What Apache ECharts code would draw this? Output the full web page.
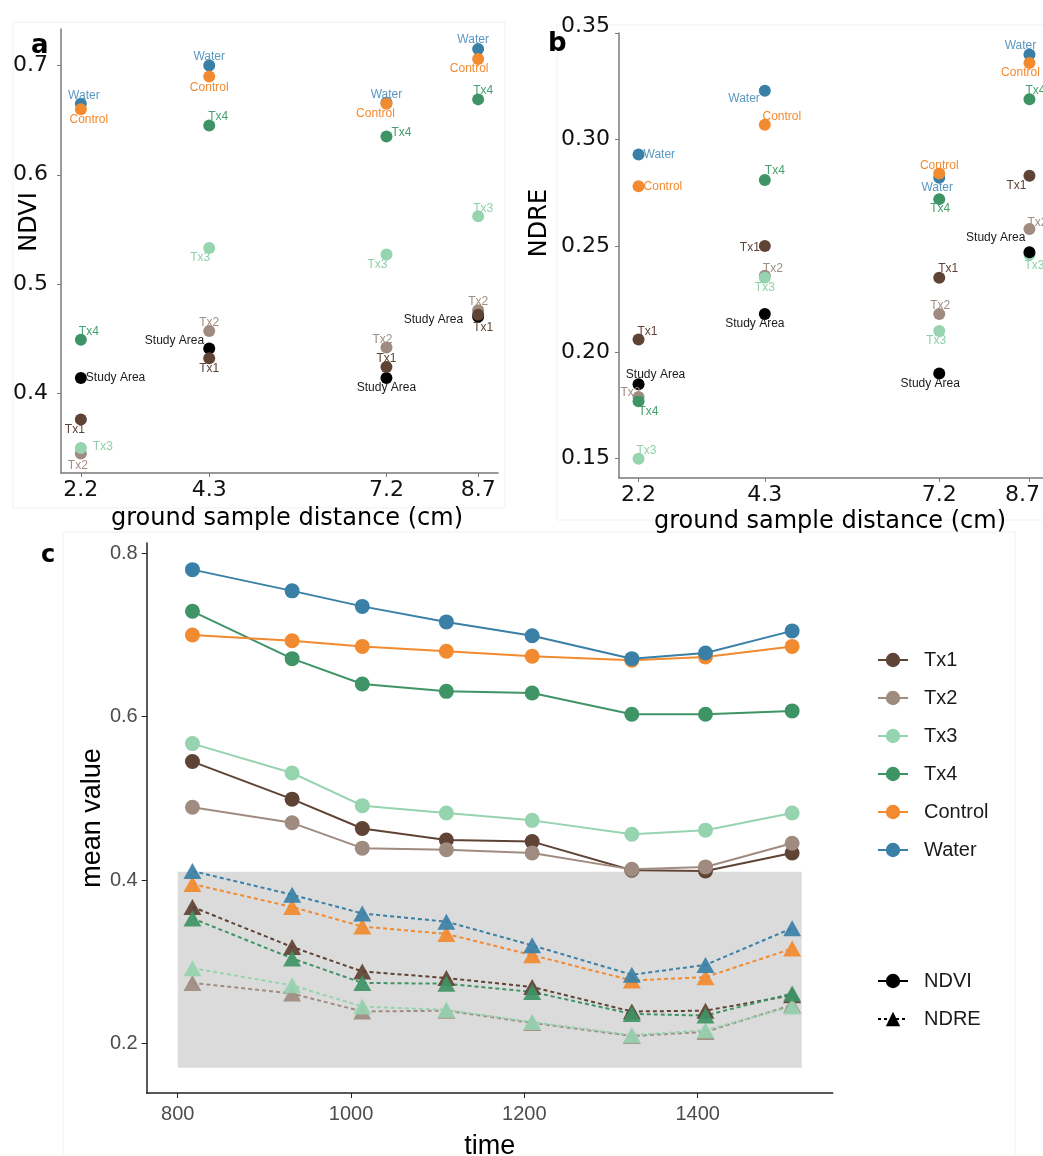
<!DOCTYPE html>
<html>
<head>
<meta charset="utf-8">
<script src="https://cdn.jsdelivr.net/npm/echarts@6/dist/echarts.min.js"></script>
<style>html,body{margin:0;padding:0;background:#fff;}#chart{width:1043px;height:1156px;}</style>
</head>
<body>
<div id="chart"></div>
<script>
// ---------- DATA ----------
const gsd = [2.2, 4.3, 7.2, 8.7];
const gsdTicks = [2.2, 4.3, 7.2, 8.7];
const ndviTicks = [0.4, 0.5, 0.6, 0.7];
const ndreTicks = [0.15, 0.20, 0.25, 0.30, 0.35];

const groupsAB = ['Tx2', 'Tx3', 'Study Area', 'Tx1', 'Tx4', 'Water', 'Control'];

const ndviTx1 = [0.376, 0.432, 0.424, 0.472];
const ndviTx2 = [0.345, 0.457, 0.442, 0.476];
const ndviTx3 = [0.350, 0.533, 0.527, 0.562];
const ndviTx4 = [0.449, 0.645, 0.635, 0.669];
const ndviControl = [0.660, 0.690, 0.665, 0.706];
const ndviWater = [0.665, 0.700, 0.666, 0.715];
const ndviStudy = [0.414, 0.441, 0.414, 0.470];

const ndreTx1 = [0.206, 0.250, 0.235, 0.283];
const ndreTx2 = [0.179, 0.236, 0.218, 0.258];
const ndreTx3 = [0.150, 0.235, 0.210, 0.246];
const ndreTx4 = [0.177, 0.281, 0.272, 0.319];
const ndreControl = [0.278, 0.307, 0.284, 0.336];
const ndreWater = [0.293, 0.323, 0.282, 0.340];
const ndreStudy = [0.185, 0.218, 0.190, 0.247];

const times = [817, 932, 1013, 1110, 1209, 1324, 1409, 1509];
const timeTicks = [800, 1000, 1200, 1400];
const meanTicks = [0.2, 0.4, 0.6, 0.8];
const treatments = ['Tx1', 'Tx2', 'Tx3', 'Tx4', 'Control', 'Water'];

const cNdviTx1 = [0.545, 0.499, 0.463, 0.449, 0.447, 0.412, 0.411, 0.433];
const cNdviTx2 = [0.489, 0.470, 0.439, 0.437, 0.433, 0.413, 0.416, 0.445];
const cNdviTx3 = [0.567, 0.531, 0.491, 0.482, 0.473, 0.456, 0.461, 0.482];
const cNdviTx4 = [0.729, 0.671, 0.640, 0.631, 0.629, 0.603, 0.603, 0.607];
const cNdviControl = [0.700, 0.693, 0.686, 0.680, 0.674, 0.669, 0.673, 0.686];
const cNdviWater = [0.780, 0.754, 0.735, 0.716, 0.699, 0.671, 0.678, 0.705];

const cNdreTx1 = [0.367, 0.318, 0.288, 0.280, 0.269, 0.239, 0.240, 0.259];
const cNdreTx2 = [0.274, 0.261, 0.239, 0.240, 0.225, 0.209, 0.214, 0.247];
const cNdreTx3 = [0.292, 0.271, 0.245, 0.241, 0.226, 0.210, 0.216, 0.245];
const cNdreTx4 = [0.353, 0.304, 0.274, 0.273, 0.263, 0.236, 0.234, 0.261];
const cNdreControl = [0.395, 0.367, 0.343, 0.334, 0.308, 0.277, 0.281, 0.316];
const cNdreWater = [0.411, 0.382, 0.359, 0.349, 0.320, 0.284, 0.296, 0.341];

const bandTime = [800, 1520];
const bandValue = [0.17, 0.41];

// ---------- STYLE ----------
const colors = {
  'Tx1': '#5f4334', 'Tx2': '#9f8b80', 'Tx3': '#96d3af', 'Tx4': '#3f9466',
  'Control': '#f28a30', 'Water': '#3a80a6', 'Study Area': '#000000'
};
const labelColors = {
  'Tx1': '#5f4334', 'Tx2': '#a08d83', 'Tx3': '#8fd0aa', 'Tx4': '#46a06f',
  'Control': '#f28a30', 'Water': '#5a98c2', 'Study Area': '#1a1a1a'
};
// label placement per point: [dx, dy, align]
const placeA = {
  'Tx1': [[-6,10,'center'],[0,10,'center'],[0,-8,'center'],[5,13,'center']],
  'Tx2': [[-3,12,'center'],[0,-8,'center'],[-4,-8,'center'],[0,-9,'center']],
  'Tx3': [[12,-1,'left'],[-9,10,'center'],[-9,10,'center'],[5,-8,'center']],
  'Tx4': [[8,-8,'center'],[9,-9,'center'],[5,-4,'left'],[5,-9,'center']],
  'Control': [[8,10,'center'],[0,11,'center'],[-11,10,'center'],[-9,10,'center']],
  'Water': [[3,-8,'center'],[0,-9,'center'],[0,-8,'center'],[-5,-9,'center']],
  'Study Area': [[5,0,'left'],[-5,-8,'right'],[0,10,'center'],[-15,3,'right']]
};
const placeB = {
  'Tx1': [[9,-8,'center'],[-5,2,'right'],[9,-9,'center'],[-13,10,'center']],
  'Tx2': [[-8,-4,'center'],[8,-7,'center'],[1,-8,'center'],[8,-6,'center']],
  'Tx3': [[8,-8,'center'],[0,10,'center'],[-3,10,'center'],[5,11,'center']],
  'Tx4': [[10,10,'center'],[10,-9,'center'],[1,10,'center'],[6,-8,'center']],
  'Control': [[5,0,'left'],[17,-8,'center'],[0,-8,'center'],[-9,10,'center']],
  'Water': [[5,0,'left'],[-5,8,'right'],[-2,10,'center'],[-9,-9,'center']],
  'Study Area': [[17,-10,'center'],[-10,10,'center'],[-9,10,'center'],[-4,-15,'right']]
};

const ndviByGroup = {'Tx1': ndviTx1, 'Tx2': ndviTx2, 'Tx3': ndviTx3, 'Tx4': ndviTx4,
  'Control': ndviControl, 'Water': ndviWater, 'Study Area': ndviStudy};
const ndreByGroup = {'Tx1': ndreTx1, 'Tx2': ndreTx2, 'Tx3': ndreTx3, 'Tx4': ndreTx4,
  'Control': ndreControl, 'Water': ndreWater, 'Study Area': ndreStudy};
const cNdvi = {'Tx1': cNdviTx1, 'Tx2': cNdviTx2, 'Tx3': cNdviTx3, 'Tx4': cNdviTx4,
  'Control': cNdviControl, 'Water': cNdviWater};
const cNdre = {'Tx1': cNdreTx1, 'Tx2': cNdreTx2, 'Tx3': cNdreTx3, 'Tx4': cNdreTx4,
  'Control': cNdreControl, 'Water': cNdreWater};

const panelFont = 'DejaVu Sans';
const sansFont = 'Liberation Sans';

function scatterSeries(panel, group, vals, place, axisIdx) {
  return {
    type: 'scatter', name: panel + ' ' + group,
    xAxisIndex: axisIdx, yAxisIndex: axisIdx,
    symbol: 'circle', symbolSize: 12,
    itemStyle: { color: colors[group], opacity: 1 },
    label: {
      show: true, position: 'inside', formatter: group,
      fontFamily: sansFont, fontSize: 12, color: labelColors[group],
      verticalAlign: 'middle'
    },
    emphasis: { disabled: true },
    data: gsd.map((g, i) => ({
      value: [g, vals[i]],
      label: { offset: [place[i][0], place[i][1]], align: place[i][2] }
    }))
  };
}

const series = [];
// panel c lines first (legend takes icons from them)
treatments.forEach(t => {
  series.push({
    type: 'line', name: t, xAxisIndex: 2, yAxisIndex: 2,
    data: times.map((x, i) => [x, cNdvi[t][i]]),
    symbol: 'circle', symbolSize: 15, showSymbol: true,
    lineStyle: { color: colors[t], width: 2 },
    itemStyle: { color: colors[t], borderWidth: 0 },
    emphasis: { disabled: true }, z: 4
  });
});
treatments.forEach(t => {
  series.push({
    type: 'line', name: t, xAxisIndex: 2, yAxisIndex: 2,
    data: times.map((x, i) => [x, cNdre[t][i]]),
    symbol: 'triangle', symbolSize: [18, 16], showSymbol: true,
    lineStyle: { color: colors[t], width: 2, type: [4, 3] },
    itemStyle: { color: colors[t], borderWidth: 0, opacity: 0.92 },
    emphasis: { disabled: true }, z: 3
  });
});
// shape legend dummies
series.push({ type: 'line', name: 'NDVI', xAxisIndex: 2, yAxisIndex: 2, data: [],
  symbol: 'circle', symbolSize: 14, lineStyle: { color: '#000', width: 2 }, itemStyle: { color: '#000' } });
series.push({ type: 'line', name: 'NDRE', xAxisIndex: 2, yAxisIndex: 2, data: [],
  symbol: 'triangle', symbolSize: 14, lineStyle: { color: '#000', width: 2, type: [3, 3] }, itemStyle: { color: '#000' } });
// grey band
series.push({
  type: 'line', name: 'band', xAxisIndex: 2, yAxisIndex: 2, data: [], z: 1,
  markArea: {
    silent: true,
    itemStyle: { color: '#dbdbdb', opacity: 1 },
    data: [[{ coord: [bandTime[0], bandValue[0]] }, { coord: [bandTime[1], bandValue[1]] }]]
  }
});
// panels a and b
groupsAB.forEach(g => series.push(scatterSeries('a', g, ndviByGroup[g], placeA[g], 0)));
groupsAB.forEach(g => series.push(scatterSeries('b', g, ndreByGroup[g], placeB[g], 1)));

function abXAxis(gridIndex, shiftLast) {
  return {
    type: 'value', gridIndex, min: 1.875, max: 9.025,
    axisLine: { show: true, lineStyle: { color: '#7a7a7a', width: 1.5 } },
    axisTick: { show: true, length: 4, lineStyle: { color: '#7a7a7a' }, customValues: gsdTicks },
    axisLabel: {
      customValues: gsdTicks,
      formatter: v => (shiftLast && v > 8.5 ? '{sh|' + v.toFixed(1) + '}' : v.toFixed(1)),
      rich: { sh: { fontFamily: panelFont, fontSize: 22, color: '#111', padding: [0, 14, 0, 0] } },
      fontFamily: panelFont, fontSize: 22, color: '#111', margin: 6
    },
    splitLine: { show: false }
  };
}

const option = {
  backgroundColor: '#ffffff',
  animation: false,
  grid: [
    { left: 61, top: 29, width: 437, height: 444, outerBoundsMode: 'none', containLabel: false },
    { left: 619, top: 33, width: 430, height: 445, outerBoundsMode: 'none', containLabel: false },
    { left: 146.7, top: 543, width: 686, height: 550, outerBoundsMode: 'none', containLabel: false }
  ],
  xAxis: [
    abXAxis(0, false),
    abXAxis(1, true),
    {
      type: 'value', gridIndex: 2, min: 764.2, max: 1555.8,
      name: 'time', nameLocation: 'middle', nameGap: 40, nameMoveOverlap: false,
      nameTextStyle: { fontFamily: sansFont, fontSize: 27, color: '#000' },
      axisLine: { show: true, lineStyle: { color: '#222', width: 1.5 } },
      axisTick: { show: true, length: 5, lineStyle: { color: '#222' }, customValues: timeTicks },
      axisLabel: { customValues: timeTicks, formatter: v => String(v), fontFamily: sansFont,
        fontSize: 20, color: '#4d4d4d', margin: 11 },
      splitLine: { show: false }
    }
  ],
  yAxis: [
    {
      type: 'value', gridIndex: 0, min: 0.3271, max: 0.7334,
      axisLine: { show: true, lineStyle: { color: '#7a7a7a', width: 1.5 } },
      axisTick: { show: true, length: 4, lineStyle: { color: '#7a7a7a' }, customValues: ndviTicks },
      axisLabel: { customValues: ndviTicks, formatter: v => v.toFixed(1), fontFamily: panelFont,
        fontSize: 22, color: '#111', margin: 13 },
      splitLine: { show: false }
    },
    {
      type: 'value', gridIndex: 1, min: 0.1409, max: 0.3501,
      axisLine: { show: true, lineStyle: { color: '#7a7a7a', width: 1.5 } },
      axisTick: { show: true, length: 4, lineStyle: { color: '#7a7a7a' }, customValues: ndreTicks },
      axisLabel: {
        customValues: ndreTicks,
        formatter: v => (v > 0.34 ? '{up|' + v.toFixed(2) + '}' : v.toFixed(2)),
        rich: { up: { fontFamily: panelFont, fontSize: 22, color: '#111', padding: [0, 0, 14, 0] } },
        fontFamily: panelFont, fontSize: 22, color: '#111', margin: 9
      },
      splitLine: { show: false }
    },
    {
      type: 'value', gridIndex: 2, min: 0.1392, max: 0.8126,
      name: 'mean value', nameLocation: 'middle', nameGap: 41, nameMoveOverlap: false,
      nameTextStyle: { fontFamily: sansFont, fontSize: 27, color: '#000' },
      axisLine: { show: true, lineStyle: { color: '#222', width: 1.5 } },
      axisTick: { show: true, length: 5, lineStyle: { color: '#222' }, customValues: meanTicks },
      axisLabel: { customValues: meanTicks, formatter: v => v.toFixed(1), fontFamily: sansFont,
        fontSize: 20, color: '#4d4d4d', margin: 9 },
      splitLine: { show: false }
    }
  ],
  legend: [
    {
      data: treatments, orient: 'vertical', left: 877, top: 650, padding: 0,
      itemWidth: 30, itemHeight: 18, itemGap: 18, selectedMode: false,
      textStyle: { fontFamily: sansFont, fontSize: 20, color: '#1a1a1a', lineHeight: 20, padding: [0, 0, 0, 11] }
    },
    {
      data: ['NDVI', 'NDRE'], orient: 'vertical', left: 877, top: 971, padding: 0,
      itemWidth: 30, itemHeight: 18, itemGap: 18, selectedMode: false,
      textStyle: { fontFamily: sansFont, fontSize: 20, color: '#1a1a1a', lineHeight: 20, padding: [0, 0, 0, 11] }
    }
  ],
  graphic: [
    { type: 'rect', silent: true, z: -10, shape: { x: 13, y: 22, width: 492, height: 486 },
      style: { fill: 'none', stroke: '#f0f0f0', lineWidth: 1 } },
    { type: 'rect', silent: true, z: -10, shape: { x: 557, y: 25, width: 490, height: 495 },
      style: { fill: 'none', stroke: '#f0f0f0', lineWidth: 1 } },
    { type: 'rect', silent: true, z: -10, shape: { x: 63, y: 532, width: 952, height: 630 },
      style: { fill: 'none', stroke: '#f0f0f0', lineWidth: 1 } },
    { type: 'text', left: 31, top: 33, style: { text: 'a', font: 'bold 26px "DejaVu Sans"', fill: '#000' } },
    { type: 'text', left: 548, top: 31, style: { text: 'b', font: 'bold 26px "DejaVu Sans"', fill: '#000' } },
    { type: 'text', left: 41, top: 544, style: { text: 'c', font: 'bold 24px "DejaVu Sans"', fill: '#000' } },
    { type: 'text', x: 30, y: 222, rotation: Math.PI / 2,
      style: { text: 'NDVI', font: '24px "DejaVu Sans"', fill: '#000', align: 'center', verticalAlign: 'middle' } },
    { type: 'text', x: 540, y: 223, rotation: Math.PI / 2,
      style: { text: 'NDRE', font: '24px "DejaVu Sans"', fill: '#000', align: 'center', verticalAlign: 'middle' } },
    { type: 'text', x: 287, y: 519,
      style: { text: 'ground sample distance (cm)', font: '24px "DejaVu Sans"', fill: '#000', align: 'center', verticalAlign: 'middle' } },
    { type: 'text', x: 830, y: 522,
      style: { text: 'ground sample distance (cm)', font: '24px "DejaVu Sans"', fill: '#000', align: 'center', verticalAlign: 'middle' } }
  ],
  series: series
};

const chart = echarts.init(document.getElementById('chart'), null, { renderer: 'canvas' });
chart.setOption(option);
</script>
</body>
</html>
